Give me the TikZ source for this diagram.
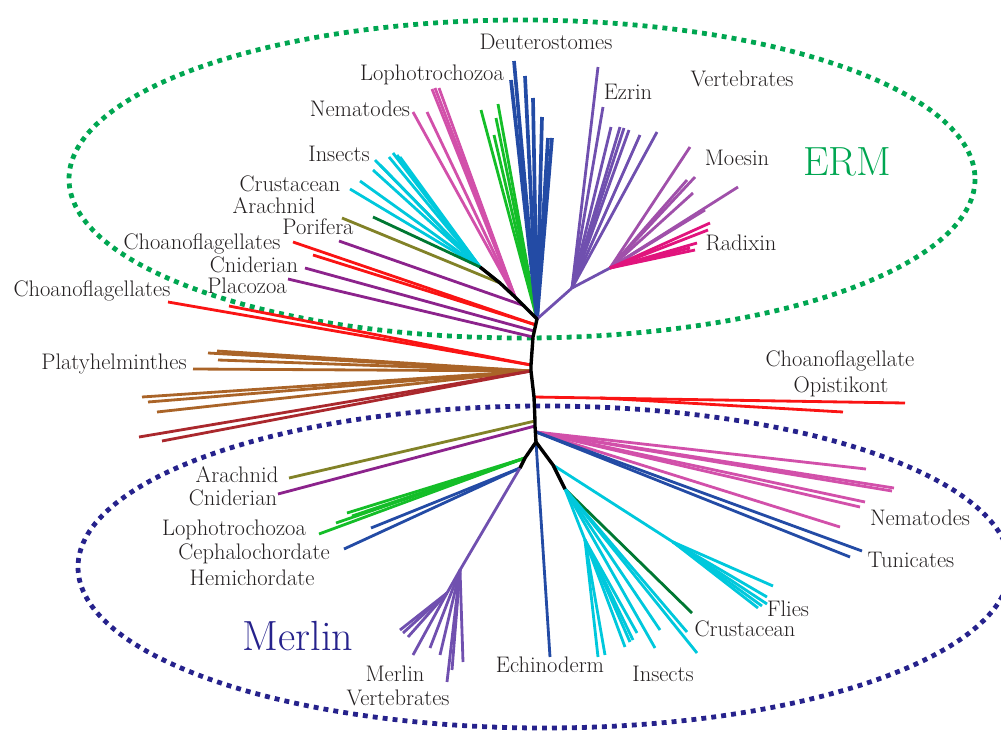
\documentclass[tikz,border=0pt]{standalone}
\usetikzlibrary{positioning}
\definecolor{txt}{RGB}{35,31,32}
\definecolor{ermgreen}{RGB}{0,166,81}
\definecolor{merblue}{RGB}{38,34,140}
\definecolor{redl}{RGB}{250,20,20}
\definecolor{purp}{RGB}{140,35,140}
\definecolor{oliv}{RGB}{130,130,40}
\definecolor{dgrn}{RGB}{0,120,50}
\definecolor{cyn}{RGB}{0,200,220}
\definecolor{pnk}{RGB}{210,80,170}
\definecolor{grn}{RGB}{20,190,40}
\definecolor{blu}{RGB}{35,75,165}
\definecolor{ezr}{RGB}{112,80,175}
\definecolor{moe}{RGB}{160,80,170}
\definecolor{rad}{RGB}{225,20,125}
\definecolor{brn}{RGB}{170,100,40}
\definecolor{dred}{RGB}{170,40,45}

\begin{document}
\begin{tikzpicture}[x=0.025cm,y=-0.025cm,
  br/.style={line width=2pt},
  bk/.style={line width=2.4pt,black,line join=round},
  lab/.style={font=\fontsize{16}{18}\selectfont,text=txt,inner sep=0pt},
  ringdot/.style={line width=3.4pt,dash pattern=on 3.5pt off 3.6pt}]
\useasboundingbox (0,0) rectangle (1001,731);

% dotted ovals
\draw[ringdot,ermgreen] (522,179) ellipse [x radius=453,y radius=159];
\draw[ringdot,merblue] (544,567) ellipse [x radius=466,y radius=161];

% backbone points
\coordinate (ins) at (480,267);
\coordinate (arc) at (500,283);
\coordinate (nem) at (515,297);
\coordinate (por) at (525,306);
\coordinate (erm) at (537,319);
\coordinate (chu) at (536,325);
\coordinate (cni) at (534,331);
\coordinate (plc) at (533,337);
\coordinate (cho) at (531,365);
\coordinate (pla) at (531,371);
\coordinate (opi) at (534,397);
\coordinate (ara) at (535,421);
\coordinate (cn2) at (535,426);
\coordinate (nm2) at (536,432);
\coordinate (mer) at (536,442);
\coordinate (lop) at (525,458);
\coordinate (cep) at (520,468);
\coordinate (cru) at (553,465);
\coordinate (in2) at (565,489);

% ERM: insects, arachnid, porifera
\foreach \x/\y [count=\i] in {393/153,397/155,400/157,389/157,375/160,380/165,373/170,360/181,350/189}
  {\coordinate (ti\i) at (\x,\y); \draw[br,cyn] (ins) -- (ti\i);}
\coordinate (ar1) at (373,217); \draw[br,dgrn] (ins) -- (ar1);
\coordinate (po1) at (342,218); \draw[br,oliv] (arc) -- (po1);
\coordinate (pp1) at (339,241); \draw[br,purp] (por) -- (pp1);
% ERM: nematodes, lophotrochozoa, deuterostomes
\foreach \x/\y [count=\i] in {413/112,427/112,432/89,435/88,439/88}
  {\coordinate (tn\i) at (\x,\y); \draw[br,pnk] (nem) -- (tn\i);}
\foreach \x/\y [count=\i] in {481/110,498/104,496/118,494/135}
  {\coordinate (tl\i) at (\x,\y); \draw[br,grn] (erm) -- (tl\i);}
\foreach \x/\y [count=\i] in {514/61,511/80,525/76,533/98,542/117,548/138,552/138}
  {\coordinate (td\i) at (\x,\y); \draw[line width=2.6pt,blu] (erm) -- (td\i);}
% ERM: ezrin, moesin, radixin
\coordinate (ezn) at (572,288);
\coordinate (moe) at (610,268);
\draw[br,ezr] (erm) -- (ezn) -- (moe);
\foreach \x/\y [count=\i] in {598/67,603/107,611/127,620/127,624/128,629/130,640/135,657/132}
  {\coordinate (te\i) at (\x,\y); \draw[br,ezr] (ezn) -- (te\i);}
\foreach \x/\y [count=\i] in {690/147,687/180,695/177,693/193,738/187,705/210,700/212}
  {\coordinate (tm\i) at (\x,\y); \draw[br,moe] (moe) -- (tm\i);}
\foreach \x/\y [count=\i] in {710/223,708/230,697/243,695/250,690/248}
  {\coordinate (tr\i) at (\x,\y); \draw[br,rad] (moe) -- (tr\i);}
% ERM: choanoflagellates, cniderian, placozoa
\coordinate (rc1) at (293,242); \draw[br,redl] (chu) -- (rc1);
\coordinate (rc2) at (313,255); \draw[br,redl] (chu) -- (rc2);
\coordinate (pc1) at (305,268); \draw[br,purp] (cni) -- (pc1);
\coordinate (pz1) at (288,279); \draw[br,purp] (plc) -- (pz1);

% middle: choanoflagellates, platyhelminthes
\coordinate (rl1) at (168,302); \draw[br,redl] (cho) -- (rl1);
\coordinate (rl2) at (229,306); \draw[br,redl] (cho) -- (rl2);
\foreach \x/\y [count=\i] in {208/353,217/351,218/360,193/369,142/397,148/402,157/412}
  {\coordinate (pl\i) at (\x,\y); \draw[br,brn] (pla) -- (pl\i);}
\foreach \x/\y [count=\i] in {139/437,162/441}
  {\coordinate (dr\i) at (\x,\y); \draw[br,dred] (pla) -- (dr\i);}
\coordinate (op1) at (905,403);
\coordinate (op2) at (600,398);
\coordinate (op3) at (843,412);
\draw[br,redl] (opi) -- (op1);
\draw[br,redl] (op2) -- (op3);

% Merlin: arachnid, cniderian, nematodes, tunicates
\coordinate (ma1) at (289,478); \draw[br,oliv] (ara) -- (ma1);
\coordinate (mc1) at (278,494); \draw[br,purp] (cn2) -- (mc1);
\foreach \x/\y [count=\i] in {866/469,894/488,892/491,865/502,860/507,840/527}
  {\coordinate (mn\i) at (\x,\y); \draw[br,pnk] (nm2) -- (mn\i);}
\foreach \x/\y [count=\i] in {862/551,850/557}
  {\coordinate (mt\i) at (\x,\y); \draw[br,blu] (nm2) -- (mt\i);}
% Merlin: lophotrochozoa, chordates, vertebrates
\foreach \x/\y [count=\i] in {347/513,336/523,319/534,352/516}
  {\coordinate (ml\i) at (\x,\y); \draw[br,grn] (lop) -- (ml\i);}
\foreach \x/\y [count=\i] in {371/528,344/549}
  {\coordinate (mh\i) at (\x,\y); \draw[br,blu] (cep) -- (mh\i);}
\coordinate (mv) at (460,570);
\coordinate (mw) at (447,593);
\draw[br,ezr] (cep) -- (mv) -- (mw);
\foreach \x/\y [count=\i] in {430/648,440/655,447/682,452/670,463/662}
  {\coordinate (mva\i) at (\x,\y); \draw[br,ezr] (mv) -- (mva\i);}
\foreach \x/\y [count=\i] in {400/630,403/633,408/637,413/655}
  {\coordinate (mvb\i) at (\x,\y); \draw[br,ezr] (mw) -- (mvb\i);}
\coordinate (ech) at (550,657); \draw[br,blu] (mer) -- (ech);
% Merlin: flies, crustacean, insects
\coordinate (fly) at (673,542);
\draw[br,cyn] (cru) -- (fly);
\foreach \x/\y [count=\i] in {773/586,767/597,767/604,758/608,762/606}
  {\coordinate (mf\i) at (\x,\y); \draw[br,cyn] (fly) -- (mf\i);}
\coordinate (cr2) at (692,613); \draw[br,dgrn] (in2) -- (cr2);
\coordinate (in3) at (585,540);
\draw[br,cyn] (in2) -- (in3);
\foreach \x/\y [count=\i] in {697/653,660/630,687/632,655/648}
  {\coordinate (mi\i) at (\x,\y); \draw[br,cyn] (in2) -- (mi\i);}
\foreach \x/\y [count=\i] in {598/657,605/655,625/647,630/642,633/640,637/633}
  {\coordinate (mj\i) at (\x,\y); \draw[br,cyn] (in3) -- (mj\i);}

% backbone
\draw[bk] (ins) -- (arc) -- (nem) -- (erm) -- (plc) -- (cho) -- (pla) -- (opi) -- (ara) -- (cn2) -- (mer);
\draw[bk] (mer) -- (lop) -- (cep);
\draw[bk] (mer) -- (cru) -- (in2);

% labels
\node[lab] (l1) at (546,42) {Deuterostomes};
\node[lab] (l2) at (432,75) {Lophotrochozoa};
\node[lab] (l3) at (628,92) {Ezrin};
\node[lab] (l4) at (742,79) {Vertebrates};
\node[lab] (l5) at (360,109) {Nematodes};
\node[lab] (l6) at (737,158) {Moesin};
\node[lab] (l8) at (339,154) {Insects};
\node[lab] (l9) at (290,184) {Crustacean};
\node[lab] (l10) at (274,206) {Arachnid};
\node[lab] (l11) at (318,227) {Porifera};
\node[lab] (l12) at (202,244) {Choanoflagellates};
\node[lab] (l13) at (741,243) {Radixin};
\node[lab] (l14) at (254,265) {Cniderian};
\node[lab] (l15) at (247,286) {Placozoa};
\node[lab] (l16) at (92,291) {Choanoflagellates};
\node[lab] (l17) at (114,364) {Platyhelminthes};
\node[lab] (l18) at (840,361) {Choanoflagellate};
\node[lab] (l19) at (841,387) {Opistikont};
\node[lab] (l20) at (237,475) {Arachnid};
\node[lab] (l21) at (233,498) {Cniderian};
\node[lab] (l22) at (234,530) {Lophotrochozoa};
\node[lab] (l23) at (254,554) {Cephalochordate};
\node[lab] (l24) at (252,578) {Hemichordate};
\node[lab] (l25) at (920,518) {Nematodes};
\node[lab] (l26) at (911,560) {Tunicates};
\node[lab] (l27) at (788,609) {Flies};
\node[lab] (l28) at (745,629) {Crustacean};
\node[lab] (l29) at (550,665) {Echinoderm};
\node[lab] (l30) at (663,674) {Insects};
\node[lab] (l31) at (395,674) {Merlin};
\node[lab] (l32) at (398,698) {Vertebrates};
\node[font=\fontsize{29}{32}\selectfont,text=ermgreen,inner sep=0pt] (erml) at (847,162) {ERM};
\node[font=\fontsize{30}{33}\selectfont,text=merblue,inner sep=0pt] (merl) at (298,636) {Merlin};
\end{tikzpicture}
\end{document}
